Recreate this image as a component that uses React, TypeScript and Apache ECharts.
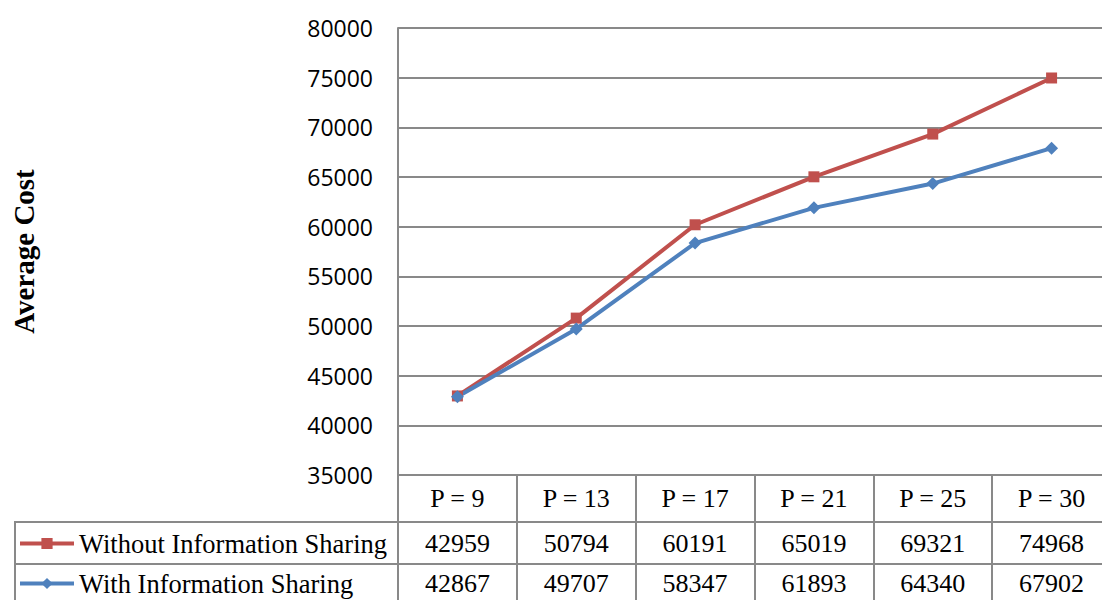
import React, { useEffect, useRef } from "react";
import * as echarts from "echarts";

const categories = ["P = 9", "P = 13", "P = 17", "P = 21", "P = 25", "P = 30"];
const withoutSharing = [42959, 50794, 60191, 65019, 69321, 74968];
const withSharing = [42867, 49707, 58347, 61893, 64340, 67902];
const seriesNames = ["Without Information Sharing", "With Information Sharing"];
const yTicks = { min: 35000, max: 80000, interval: 5000 };

const GRID_COLOR = "#898989";
const SERIF = "'Liberation Serif', 'Times New Roman', serif";
const SANS = "'Open Sans', 'Noto Sans', sans-serif";
const TABLE_FONT = 26;

export default function App() {
  const ref = useRef<HTMLDivElement>(null);
  useEffect(() => {
    if (!ref.current) return;
    const chart = echarts.init(ref.current, undefined, { renderer: "svg" });
    const rowAxis = (data: string[], offset: number, margin: number) => ({
      type: "category" as const,
      data,
      gridIndex: 0,
      position: "bottom" as const,
      offset,
      boundaryGap: true,
      axisLine: { show: false },
      axisTick: { show: false },
      splitLine: { show: false },
      axisLabel: { margin, fontFamily: SERIF, fontSize: TABLE_FONT, color: "#000", interval: 0 },
    });
    const legendItem = (name: string, top: number) => ({
      orient: "horizontal",
      left: 18,
      top,
      itemWidth: 54,
      itemHeight: 14,
      padding: 0,
      lineStyle: { width: 4 },
      textStyle: { fontFamily: SERIF, fontSize: 26.5, color: "#000" },
      data: [name],
    });
    chart.setOption({
      animation: false,
      backgroundColor: "#fff",
      grid: { left: 398, top: 28, width: 713, height: 447, containLabel: false },
      legend: [legendItem(seriesNames[0], 530), legendItem(seriesNames[1], 570)],
      xAxis: [
        {
          type: "category",
          data: categories,
          boundaryGap: true,
          axisLine: { show: true, lineStyle: { color: GRID_COLOR, width: 2 } },
          axisTick: { show: true, inside: false, length: 126, alignWithLabel: false, lineStyle: { color: GRID_COLOR, width: 2 } },
          splitLine: { show: false },
          axisLabel: { margin: 10, fontFamily: SERIF, fontSize: TABLE_FONT, color: "#000", interval: 0 },
        },
        rowAxis(withoutSharing.map(String), 47, 8),
        rowAxis(withSharing.map(String), 89, 6),
      ],
      yAxis: {
        type: "value",
        min: yTicks.min,
        max: yTicks.max,
        interval: yTicks.interval,
        name: "Average Cost",
        nameLocation: "middle",
        nameGap: 360,
        nameRotate: 90,
        nameTextStyle: { fontFamily: SERIF, fontSize: 29, fontWeight: "bold", color: "#000" },
        axisLine: { show: true, lineStyle: { color: GRID_COLOR, width: 2 } },
        axisTick: { show: false },
        axisLabel: { margin: 25, fontFamily: SANS, fontSize: 23, color: "#000", formatter: (v: number) => String(v) },
        splitLine: { show: true, lineStyle: { color: GRID_COLOR, width: 2 } },
      },
      series: [
        {
          name: seriesNames[0],
          type: "line",
          data: withoutSharing,
          xAxisIndex: 0,
          color: "#C0504D",
          lineStyle: { width: 4, color: "#C0504D" },
          itemStyle: { color: "#C0504D" },
          symbol: "rect",
          symbolSize: 11,
        },
        {
          name: seriesNames[1],
          type: "line",
          data: withSharing,
          xAxisIndex: 0,
          color: "#4F81BD",
          lineStyle: { width: 4, color: "#4F81BD" },
          itemStyle: { color: "#4F81BD" },
          symbol: "diamond",
          symbolSize: 13,
        },
      ],
      graphic: [
        { type: "line", silent: true, shape: { x1: 15, y1: 522, x2: 1111, y2: 522 }, style: { stroke: GRID_COLOR, lineWidth: 2 } },
        { type: "line", silent: true, shape: { x1: 15, y1: 564, x2: 1111, y2: 564 }, style: { stroke: GRID_COLOR, lineWidth: 2 } },
        { type: "line", silent: true, shape: { x1: 15, y1: 521, x2: 15, y2: 600 }, style: { stroke: GRID_COLOR, lineWidth: 2 } },
      ],
    });
    return () => chart.dispose();
  }, []);
  return (
    <div style={{ position: "absolute", left: 0, top: 0, width: 1102, height: 600, overflow: "hidden", background: "#fff" }}>
      <div ref={ref} style={{ width: 1111, height: 600 }} />
    </div>
  );
}
